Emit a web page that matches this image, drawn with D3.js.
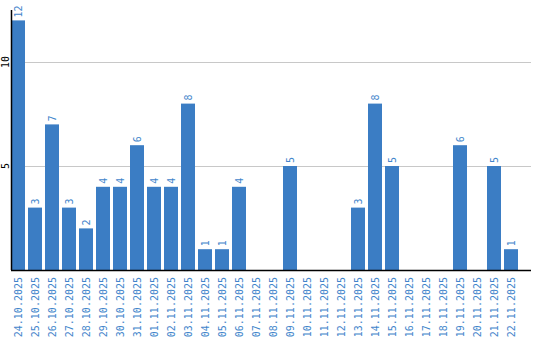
<!DOCTYPE html>
<html>
<head>
<meta charset="utf-8">
<script src="https://cdn.jsdelivr.net/npm/d3@7"></script>
<style>
  body { margin: 0; background: #fff; }
  text { font-family: "DejaVu Sans Mono", monospace; font-size: 10px; }
</style>
</head>
<body>
<div id="chart"></div>
<script>
const dates = ["24.10.2025", "25.10.2025", "26.10.2025", "27.10.2025", "28.10.2025",
    "29.10.2025", "30.10.2025", "31.10.2025", "01.11.2025", "02.11.2025",
    "03.11.2025", "04.11.2025", "05.11.2025", "06.11.2025", "07.11.2025",
    "08.11.2025", "09.11.2025", "10.11.2025", "11.11.2025", "12.11.2025",
    "13.11.2025", "14.11.2025", "15.11.2025", "16.11.2025", "17.11.2025",
    "18.11.2025", "19.11.2025", "20.11.2025", "21.11.2025", "22.11.2025"];
const counts = [12, 3, 7, 3, 2, 4, 4, 6, 4, 4, 8, 1, 1, 4, 0,
    0, 5, 0, 0, 0, 3, 8, 5, 0, 0, 0, 6, 0, 5, 1];
const yTicks = [5, 10];

const width = 540, height = 340;
const plotLeft = 11, plotRight = 531, plotTop = 10, plotBottom = 270;
const blue = "#3b7dc4";
const textBlue = "#4285cb";

const svg = d3.select("#chart").append("svg")
    .attr("width", width)
    .attr("height", height);

const x = d3.scaleBand()
    .domain(dates)
    .range([plotLeft, 518])
    .paddingInner(3 / 17)
    .paddingOuter(0)
    .align(0);

const y = d3.scaleLinear()
    .domain([0, 12.5])
    .range([plotBottom, plotTop]);

// gridlines
svg.selectAll("line.grid")
    .data(yTicks)
    .enter().append("line")
    .attr("class", "grid")
    .attr("x1", plotLeft)
    .attr("x2", plotRight)
    .attr("y1", d => Math.round(y(d)) + 0.5)
    .attr("y2", d => Math.round(y(d)) + 0.5)
    .attr("stroke", "#c8c8c8")
    .attr("stroke-width", 1);

// y tick labels, rotated
svg.selectAll("text.ytick")
    .data(yTicks)
    .enter().append("text")
    .attr("class", "ytick")
    .attr("transform", d => "translate(5," + y(d) + ") rotate(-90)")
    .attr("text-anchor", "middle")
    .attr("dy", "0.35em")
    .attr("fill", "#000")
    .text(d => d);

const data = dates.map((d, i) => ({ date: d, value: counts[i] }));

svg.selectAll("rect.bar")
    .data(data.filter(d => d.value > 0))
    .enter().append("rect")
    .attr("class", "bar")
    .attr("x", d => x(d.date))
    .attr("y", d => y(d.value))
    .attr("width", x.bandwidth())
    .attr("height", d => plotBottom - y(d.value))
    .attr("fill", blue);

// value labels above bars
svg.selectAll("text.value")
    .data(data.filter(d => d.value > 0))
    .enter().append("text")
    .attr("class", "value")
    .attr("transform", d => "translate(" + (x(d.date) + x.bandwidth() / 2) + ","
        + (y(d.value) - 3) + ") rotate(-90)")
    .attr("dy", "0.35em")
    .attr("text-anchor", "start")
    .attr("fill", textBlue)
    .text(d => d.value);

// axis lines
svg.append("line")
    .attr("x1", plotLeft + 0.5).attr("x2", plotLeft + 0.5)
    .attr("y1", plotTop).attr("y2", plotBottom)
    .attr("stroke", "#000")
    .attr("stroke-width", 1.5);

svg.append("line")
    .attr("x1", plotLeft).attr("x2", plotRight)
    .attr("y1", plotBottom + 0.5).attr("y2", plotBottom + 0.5)
    .attr("stroke", "#000")
    .attr("stroke-width", 1.5);

// date labels
svg.selectAll("text.date")
    .data(dates)
    .enter().append("text")
    .attr("class", "date")
    .attr("transform", d => "translate(" + (x(d) + x.bandwidth() / 2) + ","
        + (plotBottom + 7) + ") rotate(-90)")
    .attr("dy", "0.35em")
    .attr("text-anchor", "end")
    .attr("fill", textBlue)
    .text(d => d);
</script>
</body>
</html>
